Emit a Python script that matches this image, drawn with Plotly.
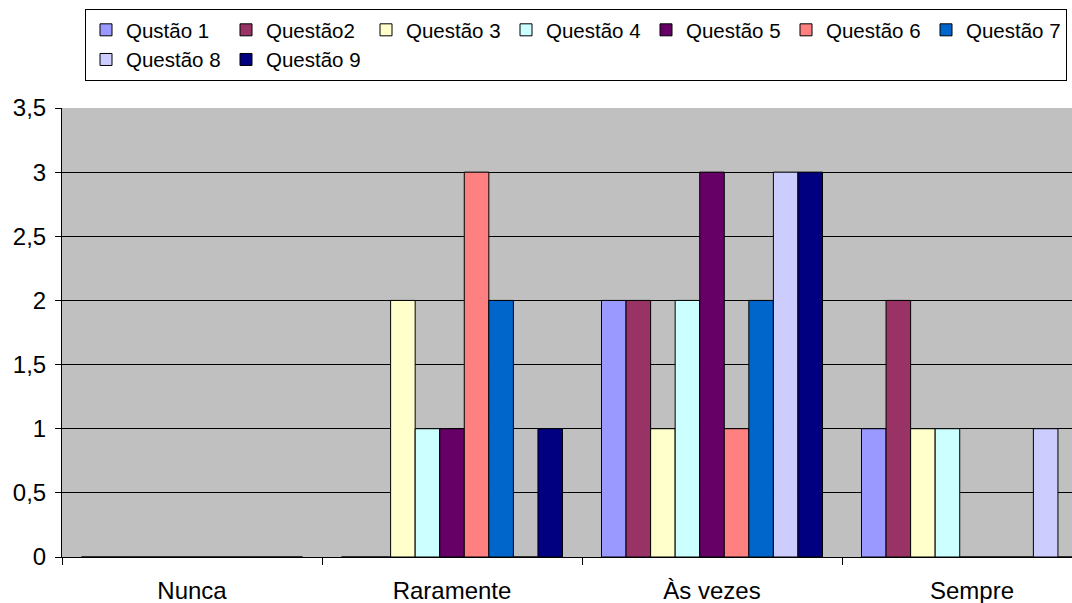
import plotly.graph_objects as go

categories = ["Nunca", "Raramente", "Às vezes", "Sempre"]
series_names = ["Qustão 1", "Questão2", "Questão 3", "Questão 4", "Questão 5",
                "Questão 6", "Questão 7", "Questão 8", "Questão 9"]
q1 = [0, 0, 2, 1]
q2 = [0, 0, 2, 2]
q3 = [0, 2, 1, 1]
q4 = [0, 1, 2, 1]
q5 = [0, 1, 3, 0]
q6 = [0, 3, 1, 0]
q7 = [0, 2, 2, 0]
q8 = [0, 0, 3, 1]
q9 = [0, 1, 3, 0]
y_ticks = [0, 0.5, 1, 1.5, 2, 2.5, 3, 3.5]
y_tick_labels = ["0", "0,5", "1", "1,5", "2", "2,5", "3", "3,5"]

colors = ["#9999FF", "#993366", "#FFFFCC", "#CCFFFF", "#660066",
          "#FF8080", "#0066CC", "#CCCCFF", "#000080"]
series_values = [q1, q2, q3, q4, q5, q6, q7, q8, q9]

W, H = 1072, 603
ML, MR, MT, MB = 62, 0, 108, 46
FONT = "Liberation Sans, Arial, sans-serif"

fig = go.Figure()
for name, vals, col in zip(series_names, series_values, colors):
    fig.add_trace(go.Bar(
        x=categories, y=vals, name=name,
        marker=dict(color=col, line=dict(color="#000000", width=1)),
    ))

plot_w = W - ML - MR
cat_px = 260.0
x_right = -0.5 + plot_w / cat_px

fig.update_layout(
    width=W, height=H,
    margin=dict(l=ML, r=MR, t=MT, b=MB, pad=0),
    paper_bgcolor="#FFFFFF",
    plot_bgcolor="#C0C0C0",
    barmode="group",
    bargap=0.15,
    bargroupgap=0,
    font=dict(family=FONT, size=24, color="#000000"),
    showlegend=True,
    legend=dict(
        orientation="h",
        x=(85 - ML) / plot_w, xanchor="left",
        y=(H - MB - 9) / (H - MT - MB), yanchor="top",
        bordercolor="#000000", borderwidth=1,
        bgcolor="#FFFFFF",
        entrywidth=95,
        font=dict(family=FONT, size=20.5, color="#000000"),
        tracegroupgap=0,
    ),
    xaxis=dict(
        type="category",
        categoryorder="array", categoryarray=categories,
        range=[-0.5, x_right],
        showgrid=False,
        showline=True, linecolor="#000000", linewidth=1,
        ticks="outside", tickson="boundaries", ticklen=7, tickcolor="#000000",
        ticklabelstandoff=12,
        tickfont=dict(family=FONT, size=24, color="#000000"),
        zeroline=False,
    ),
    yaxis=dict(
        range=[0, 3.5],
        tickvals=y_ticks, ticktext=y_tick_labels,
        showgrid=True, gridcolor="#000000", gridwidth=1,
        showline=True, linecolor="#000000", linewidth=1,
        ticks="outside", ticklen=6, tickcolor="#000000",
        ticklabelstandoff=4,
        tickfont=dict(family=FONT, size=24, color="#000000"),
        zeroline=False,
    ),
)

fig.write_html("out.html")
